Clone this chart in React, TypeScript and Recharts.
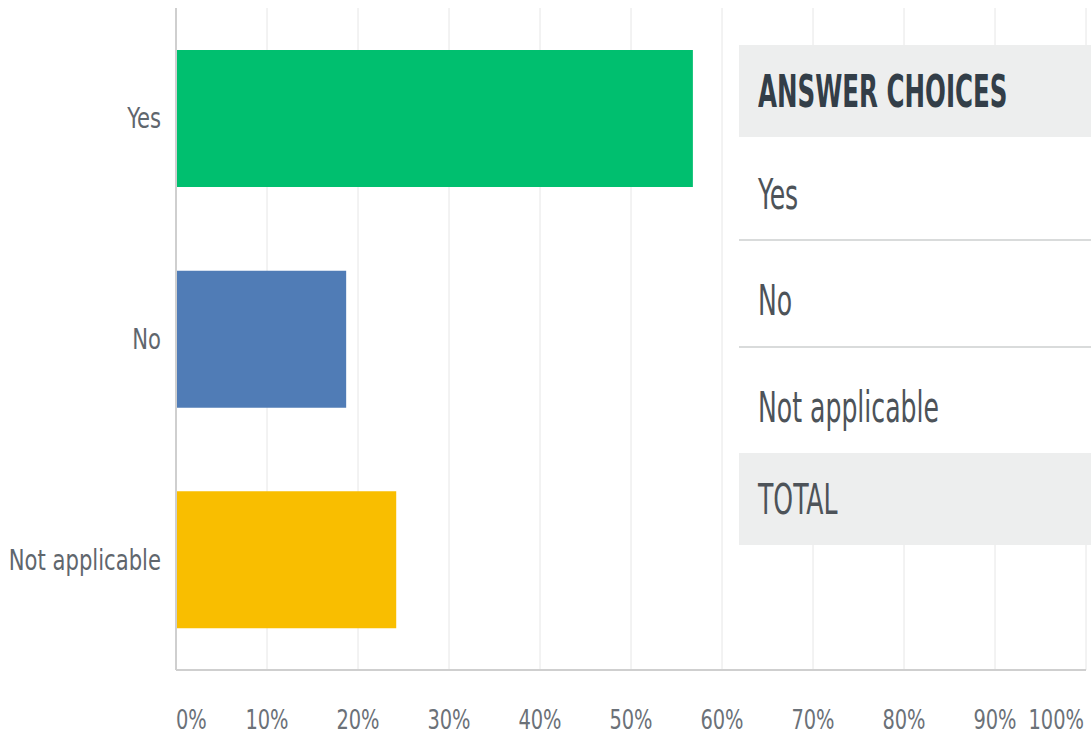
import React from "react";
import { BarChart, Bar, XAxis, YAxis, CartesianGrid, Cell } from "recharts";

const categories = ["Yes", "No", "Not applicable"];
const percents = [56.8, 18.7, 24.2];
const barColors = ["#00bf6f", "#507cb6", "#f9be00"];
const xTicks = [0, 10, 20, 30, 40, 50, 60, 70, 80, 90, 100];
const tableHeader = "ANSWER CHOICES";
const tableFooter = "TOTAL";

const data = categories.map((name, i) => ({ name, value: percents[i] }));

const FONT = '"DejaVu Sans Condensed", "Liberation Sans", sans-serif';

// the reference font is a narrow one, so squeeze the text a bit
const XTick = (props: any) => {
    const { x, y, payload, index } = props;
    let anchor: "start" | "middle" | "end" = "middle";
    let dx = 0;
    if (index === 0) anchor = "start";
    if (payload.value === 100) {
        anchor = "end";
        dx = -2;
    }
    return (
        <g transform={`translate(${x + dx},${y})`}>
            <text
                transform="scale(0.8,1)"
                dy="0.71em"
                textAnchor={anchor}
                fill="#6b7178"
                fontSize={27}
                fontFamily={FONT}
            >
                {payload.value}%
            </text>
        </g>
    );
};

const YTick = (props: any) => {
    const { x, y, payload } = props;
    return (
        <g transform={`translate(${x},${y})`}>
            <text
                transform="scale(0.84,1)"
                dy="0.355em"
                textAnchor="end"
                fill="#5f666d"
                fontSize={28}
                fontFamily={FONT}
            >
                {payload.value}
            </text>
        </g>
    );
};

const squeeze = (s: number): React.CSSProperties => ({
    display: "inline-block",
    transform: `scaleX(${s})`,
    transformOrigin: "left center",
    whiteSpace: "nowrap",
});

export default function App() {
    const rowHeights = [104, 107, 105];
    return (
        <div style={{ position: "absolute", left: 0, top: 0, width: 1091, height: 735, background: "#fff" }}>
            <BarChart
                width={1091}
                height={735}
                data={data}
                layout="vertical"
                margin={{ top: 8, right: 5, left: 0, bottom: 0 }}
            >
                <CartesianGrid horizontal={false} stroke="#e6e6e6" />
                <XAxis
                    type="number"
                    domain={[0, 100]}
                    ticks={xTicks}
                    interval={0}
                    height={65}
                    tickLine={false}
                    tickSize={0}
                    tickMargin={40}
                    stroke="#cfcfcf"
                    strokeWidth={2}
                    tick={<XTick />}
                />
                <YAxis
                    type="category"
                    dataKey="name"
                    width={176}
                    tickLine={false}
                    tickSize={0}
                    tickMargin={15}
                    stroke="#cfcfcf"
                    strokeWidth={2}
                    tick={<YTick />}
                />
                <Bar dataKey="value" barSize={137} isAnimationActive={false}>
                    {data.map((d, i) => (
                        <Cell key={d.name} fill={barColors[i]} />
                    ))}
                </Bar>
            </BarChart>

            <div
                style={{
                    position: "absolute",
                    left: 739,
                    top: 45,
                    width: 352,
                    fontFamily: FONT,
                    background: "#fff",
                }}
            >
                <div
                    style={{
                        height: 92,
                        background: "#edeeee",
                        display: "flex",
                        alignItems: "center",
                        paddingLeft: 19,
                        fontSize: 44,
                        fontWeight: "bold",
                        color: "#333e48",
                    }}
                >
                    <span style={squeeze(0.62)}>{tableHeader}</span>
                </div>
                {categories.map((c, i) => (
                    <div
                        key={c}
                        style={{
                            height: rowHeights[i],
                            boxSizing: "border-box",
                            borderBottom: i < 2 ? "2px solid #d9dbdb" : "none",
                            display: "flex",
                            alignItems: "center",
                            paddingLeft: 19,
                            paddingTop: 12,
                            fontSize: 43,
                            color: "#4d5359",
                        }}
                    >
                        <span style={squeeze(0.65)}>{c}</span>
                    </div>
                ))}
                <div
                    style={{
                        height: 92,
                        background: "#edeeee",
                        display: "flex",
                        alignItems: "center",
                        paddingLeft: 19,
                        fontSize: 43,
                        color: "#4d5359",
                    }}
                >
                    <span style={squeeze(0.65)}>{tableFooter}</span>
                </div>
            </div>
        </div>
    );
}
